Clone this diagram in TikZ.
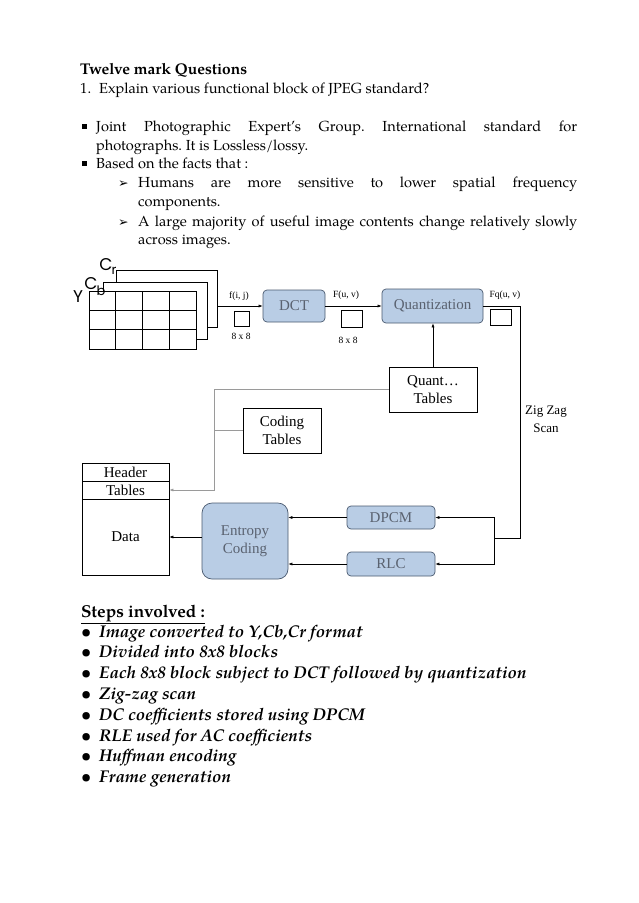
\documentclass[tikz,border=0pt]{standalone}
\usepackage{fontspec}
\setmainfont{TeX Gyre Pagella}
\newfontfamily\tnr{Liberation Serif}
\newfontfamily\djv{DejaVu Sans}
\newfontfamily\geo{Poppins}
\usetikzlibrary{arrows.meta}
\definecolor{boxfill}{HTML}{B9CDE5}
\definecolor{boxedge}{HTML}{4A5A70}
\definecolor{boxtext}{HTML}{5A6270}
\definecolor{greyline}{HTML}{9A9A9A}
\frenchspacing
\begin{document}
\begin{tikzpicture}[x=1pt,y=-1pt,
 txt/.style={anchor=base west, inner sep=0pt, font=\fontsize{14.6}{17}\selectfont},
 steptxt/.style={anchor=base west, inner sep=0pt, font=\fontsize{17}{20}\selectfont\bfseries\itshape},
 bluebox/.style={draw=boxedge, fill=boxfill, rounded corners=4pt, line width=0.7pt, text=boxtext, font=\tnr\fontsize{15}{18}\selectfont, inner sep=0pt, align=center},
 plainbox/.style={draw=black, line width=0.6pt, fill=white, inner sep=0pt, align=center, font=\tnr\fontsize{15}{17.5}\selectfont},
 smallbox/.style={draw=black, line width=0.5pt, inner sep=0pt},
 lab/.style={inner sep=0pt, font=\tnr\fontsize{9.5}{11}\selectfont},
 arr/.style={-{Latex[length=4pt,width=3pt]}, line width=0.5pt},
 garr/.style={-{Latex[length=4pt,width=3pt]}, line width=0.6pt, draw=greyline},
 gline/.style={draw=greyline, line width=0.6pt},
 frm/.style={draw=black, line width=0.6pt, fill=white, inner sep=0pt},
 chan/.style={inner sep=0pt, font=\geo\fontsize{17}{18}\selectfont}]
\useasboundingbox[fill=white] (0,0) rectangle (638,903);

% ---------- header text ----------
\node[txt, font=\fontsize{15.5}{17}\selectfont\bfseries] (t1) at (80,74) {Twelve mark Questions};
\node[txt] (t2a) at (80,93) {1.};
\node[txt] (t2b) at (99,93) {Explain various functional block of JPEG standard?};
\node[txt] (b1) at (82,131) {\raisebox{2.5pt}{\rule{4.5pt}{4.5pt}}};
\node[txt] (l1) at (96,131) {\makebox[481pt][s]{Joint Photographic Expert’s Group. International standard for}};
\node[txt] (l2) at (96,150) {photographs. It is Lossless/lossy.};
\node[txt] (b2) at (82,168) {\raisebox{2.5pt}{\rule{4.5pt}{4.5pt}}};
\node[txt] (l3) at (96,168) {Based on the facts that :};
\node[txt, font=\djv\fontsize{12.5}{14}\selectfont] (a1) at (118,187) {➢};
\node[txt] (l4) at (138,187) {\makebox[439pt][s]{Humans are more sensitive to lower spatial frequency}};
\node[txt] (l5) at (138,206) {components.};
\node[txt, font=\djv\fontsize{12.5}{14}\selectfont] (a2) at (118,226) {➢};
\node[txt] (l6) at (138,226) {\makebox[439pt][s]{A large majority of useful image contents change relatively slowly}};
\node[txt] (l7) at (138,244) {across images.};

% ---------- image planes ----------
\node[frm, minimum width=101pt, minimum height=57pt] (cr) at (166.5,298.5) {};
\node[frm, minimum width=104pt, minimum height=57pt] (cb) at (155,310.5) {};
\node[frm, minimum width=107pt, minimum height=58pt] (yg) at (142.5,320) {};
\draw[line width=0.6pt] (115.75,291) -- (115.75,349) (142.5,291) -- (142.5,349) (169.25,291) -- (169.25,349);
\draw[line width=1.2pt] (89,310.3) -- (196,310.3);
\draw[line width=0.6pt] (89,329.7) -- (196,329.7);
\node[chan] (ly) at (78,297) {Y};
\node[chan] (lcb) at (91,284) {C};
\node[chan, font=\geo\fontsize{13}{14}\selectfont] (lcbs) at (101,291) {b};
\node[chan] (lcr) at (106,265) {C};
\node[chan, font=\geo\fontsize{13}{14}\selectfont] (lcrs) at (114,271) {r};

% ---------- main blocks ----------
\node[bluebox, minimum width=62pt, minimum height=32pt] (dct) at (294,306) {DCT};
\node[bluebox, minimum width=101pt, minimum height=34pt] (quant) at (432.5,306) {Quantization};
\node[plainbox, minimum width=88pt, minimum height=45pt] (qt) at (433,389.5) {Quant…\\Tables};
\node[plainbox, minimum width=78pt, minimum height=45pt] (ct) at (282,430.5) {Coding\\Tables};
\node[bluebox, rounded corners=10pt, minimum width=86pt, minimum height=76pt, font=\tnr\fontsize{15}{18}\selectfont] (ent) at (245,541) {Entropy\\Coding};
\node[bluebox, minimum width=88pt, minimum height=23pt] (dpcm) at (391,517.5) {DPCM};
\node[bluebox, minimum width=88pt, minimum height=24pt] (rlc) at (391,564) {RLC};

% file structure
\node[plainbox, minimum width=87pt, minimum height=18pt] (hdr) at (125.5,472) {Header};
\node[plainbox, minimum width=87pt, minimum height=18pt] (tbl) at (125.5,490) {Tables};
\node[plainbox, minimum width=87pt, minimum height=76pt] (data) at (125.5,537) {Data};

% small 8x8 boxes and labels
\node[smallbox, minimum width=15pt, minimum height=15pt] (sb1) at (241.5,318.5) {};
\node[smallbox, minimum width=21pt, minimum height=17pt] (sb2) at (351.5,318.5) {};
\node[smallbox, minimum width=21pt, minimum height=16pt] (sb3) at (500.5,317) {};
\node[lab] (fij) at (239,296) {f(i, j)};
\node[lab] (e1) at (241,336) {8 x 8};
\node[lab] (fuv) at (346,295) {F(u, v)};
\node[lab] (e2) at (348,340) {8 x 8};
\node[lab] (fquv) at (505,295) {Fq(u, v)};
\node[inner sep=0pt, align=center, font=\tnr\fontsize{13}{18}\selectfont] (zz) at (546,419) {Zig Zag\\Scan};

% ---------- connectors ----------
\draw[arr] (cr.east |- dct.west) -- (dct.west);
\draw[arr] (dct.east) -- (quant.west);
\draw[arr] (qt.north) -- (qt.north |- quant.south);
\coordinate (zzt) at (520,306);
\coordinate (zzb) at (520,538);
\coordinate (split) at (494,538);
\draw[line width=0.6pt] (quant.east) -- (zzt) -- (zzb) -- (split);
\draw[arr] (split) |- (dpcm.east);
\draw[arr] (split) |- (rlc.east);
\draw[arr] (dpcm.west) -- (dpcm.west -| ent.east);
\draw[arr] (rlc.west) -- (rlc.west -| ent.east);
\draw[arr] (data.east -| ent.west) -- (data.east);
\coordinate (gt) at (214,389.5);
\draw[gline] (qt.west) -- (gt);
\draw[gline] (ct.west) -- (ct.west -| gt);
\draw[garr] (gt) -- (gt |- tbl.east) -- (tbl.east);

% ---------- steps ----------
\node[anchor=base west, inner sep=0pt, font=\fontsize{17.2}{20}\selectfont\bfseries] (sh) at (81,617) {\underline{Steps involved :}};
\foreach \i/\t in {0/{Image converted to Y,Cb,Cr format},
                   1/{Divided into 8x8 blocks},
                   2/{Each 8x8 block subject to DCT followed by quantization},
                   3/{Zig-zag scan},
                   4/{DC coefficients stored using DPCM},
                   5/{RLE used for AC coefficients},
                   6/{Huffman encoding},
                   7/{Frame generation}}{
  \node[steptxt, font=\fontsize{17}{20}\selectfont\bfseries] (bu\i) at (81,637+20.8*\i) {\textbullet};
  \node[steptxt] (st\i) at (99,637+20.8*\i) {\t};
}
\end{tikzpicture}
\end{document}
